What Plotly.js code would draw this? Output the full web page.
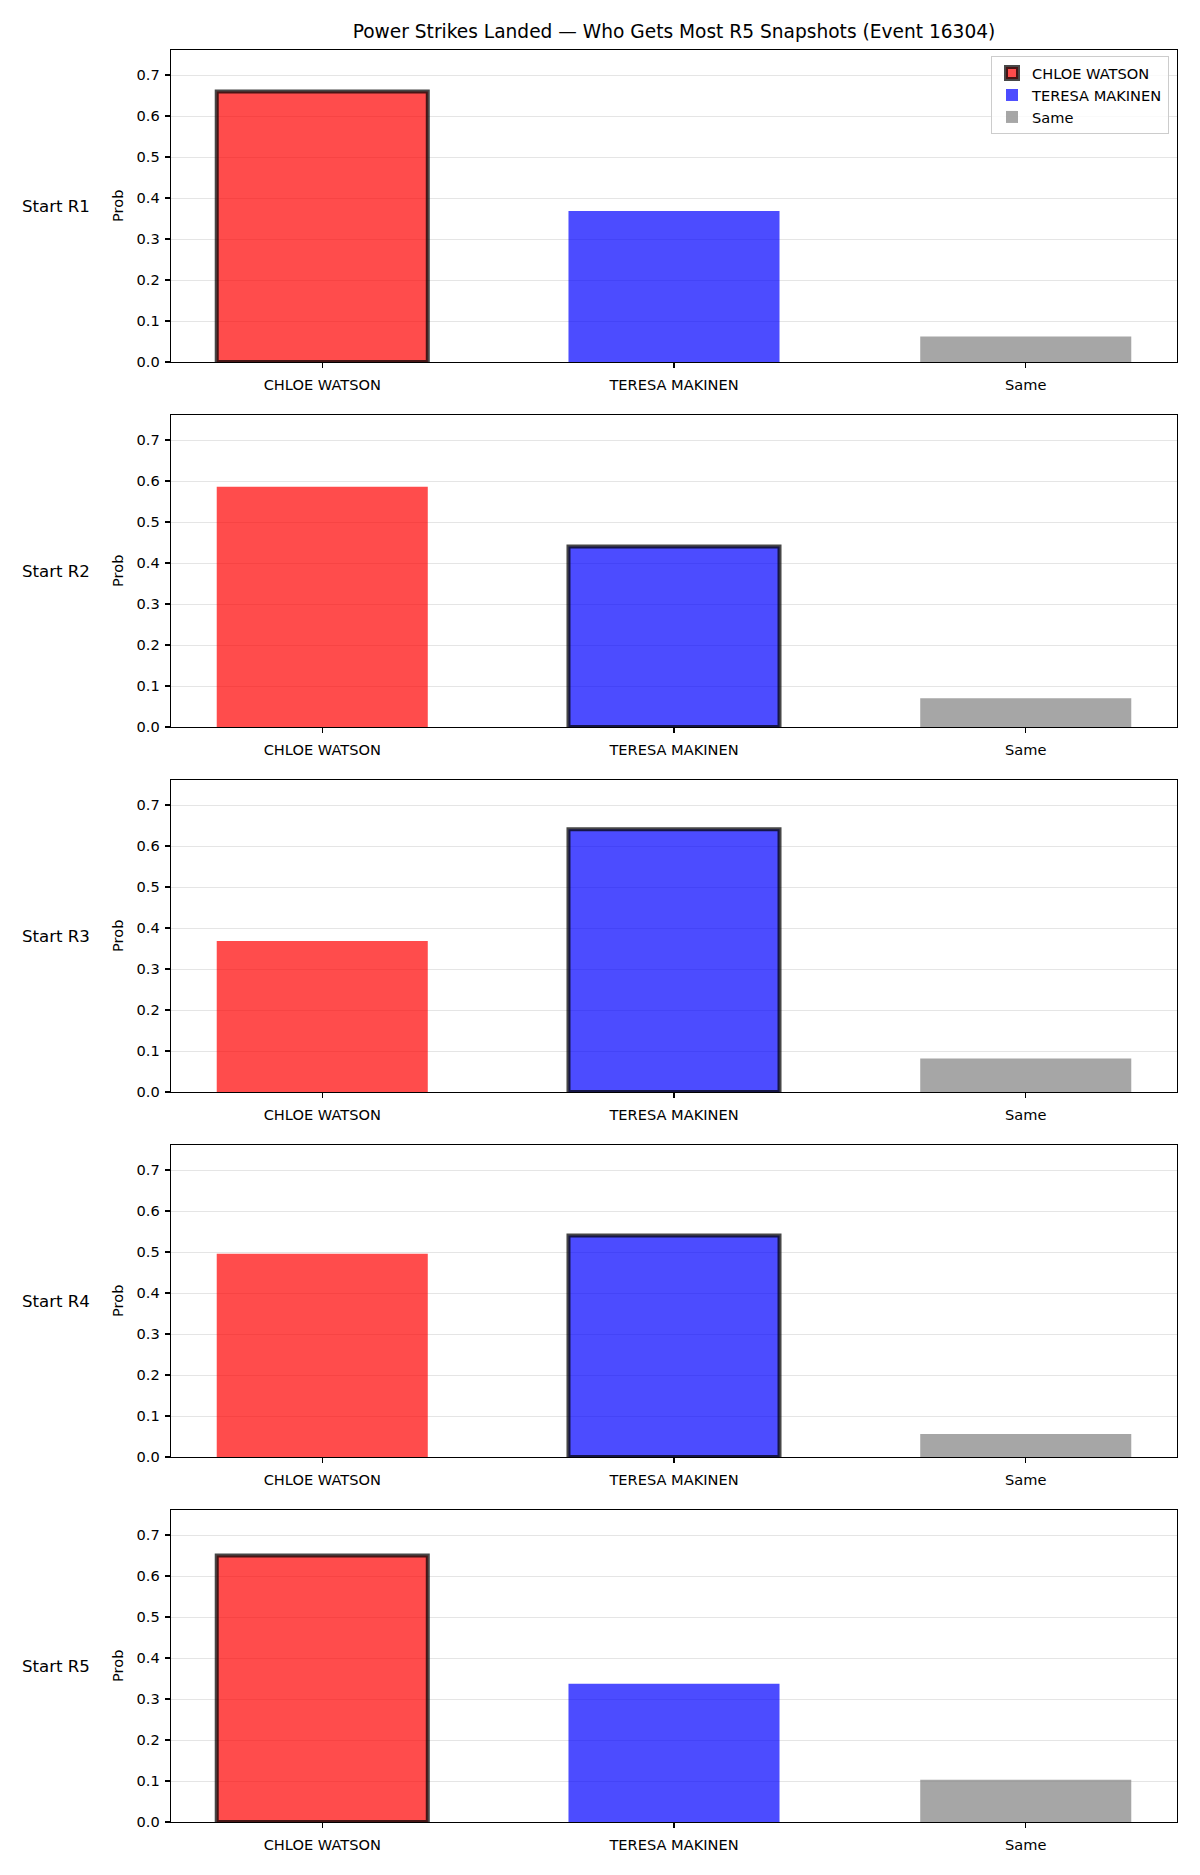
<!DOCTYPE html>
<html>
<head>
<meta charset="utf-8">
<script src="https://cdn.plot.ly/plotly-3.0.1.min.js"></script>
<style>html,body{margin:0;padding:0;background:#fff;}#chart{width:1200px;height:1875px;}</style>
</head>
<body>
<div id="chart"></div>
<script>
// ---- data ----
const categories = ['CHLOE WATSON', 'TERESA MAKINEN', 'Same'];
const rowLabels = ['Start R1', 'Start R2', 'Start R3', 'Start R4', 'Start R5'];
const probR1 = [0.660, 0.368, 0.062];
const probR2 = [0.586, 0.440, 0.070];
const probR3 = [0.368, 0.641, 0.082];
const probR4 = [0.496, 0.540, 0.056];
const probR5 = [0.650, 0.337, 0.103];
const highlighted = ['CHLOE WATSON', 'TERESA MAKINEN', 'TERESA MAKINEN', 'TERESA MAKINEN', 'CHLOE WATSON'];
const yTicks = [0, 0.1, 0.2, 0.3, 0.4, 0.5, 0.6, 0.7];
const titleText = 'Power Strikes Landed \u2014 Who Gets Most R5 Snapshots (Event 16304)';

// ---- styling ----
const W = 1200, H = 1875;
const fills = ['rgba(255,0,0,0.7)', 'rgba(0,0,255,0.7)', 'rgba(128,128,128,0.7)'];
const FONT = 'DejaVu Sans, sans-serif';
const TICK = 14.6;
const axLeft = 171, axRight = 1177;
const panelTop0 = 50, panelH = 312, panelStep = 365;
const rows = [probR1, probR2, probR3, probR4, probR5];

const data = [];
const layout = {
  width: W, height: H,
  margin: {l: 0, r: 0, t: 0, b: 0},
  paper_bgcolor: '#fff', plot_bgcolor: '#fff',
  barmode: 'overlay',
  showlegend: true,
  font: {family: FONT, color: '#000', size: TICK},
  title: {text: titleText, font: {family: FONT, size: 18.6, color: '#000'},
          x: ((axLeft + axRight) / 2) / W, xanchor: 'center', y: 1 - 31 / H, yanchor: 'middle'},
  legend: {x: 1169 / W, xanchor: 'right', y: 1 - 56 / H, yanchor: 'top',
           bgcolor: 'rgba(255,255,255,0.8)', bordercolor: '#cccccc', borderwidth: 1,
           tracegroupgap: 2, traceorder: 'normal',
           font: {family: FONT, size: TICK, color: '#000'}},
  annotations: []
};

rows.forEach((vals, p) => {
  const top = panelTop0 + p * panelStep;
  const bot = top + panelH;
  const xa = 'xaxis' + (p === 0 ? '' : p + 1);
  const ya = 'yaxis' + (p === 0 ? '' : p + 1);
  const xr = 'x' + (p === 0 ? '' : p + 1);
  const yr = 'y' + (p === 0 ? '' : p + 1);
  categories.forEach((c, i) => {
    const hl = c === highlighted[p];
    data.push({
      type: 'bar', x: [c], y: [vals[i]], name: c, width: 0.6,
      xaxis: xr, yaxis: yr,
      marker: {color: fills[i], line: {color: hl ? 'rgba(0,0,0,0.72)' : 'rgba(0,0,0,0)', width: hl ? 4 : 0}},
      showlegend: p === 0, legendgroup: c, hoverinfo: 'skip'
    });
  });
  layout[xa] = {
    domain: [axLeft / W, axRight / W], anchor: yr,
    type: 'category', categoryorder: 'array', categoryarray: categories,
    range: [-0.43, 2.43], showgrid: false, zeroline: false,
    showline: true, mirror: true, linecolor: '#000', linewidth: 1.3,
    ticks: 'outside', ticklen: 5, tickwidth: 1.2, tickcolor: '#000', ticklabelstandoff: 4,
    tickfont: {family: FONT, size: TICK, color: '#000'}, fixedrange: true
  };
  layout[ya] = {
    domain: [1 - bot / H, 1 - top / H], anchor: xr,
    range: [0, 0.761], tickvals: yTicks, tickformat: '.1f',
    showgrid: true, gridcolor: 'rgba(190,190,190,0.4)', gridwidth: 1,
    zeroline: false, showline: true, mirror: true, linecolor: '#000', linewidth: 1.3,
    ticks: 'outside', ticklen: 5, tickwidth: 1.2, tickcolor: '#000', ticklabelstandoff: 2,
    tickfont: {family: FONT, size: TICK, color: '#000'}, layer: 'above traces', fixedrange: true
  };
  const midY = 1 - (top + panelH / 2) / H;
  layout.annotations.push({
    text: rowLabels[p], xref: 'paper', yref: 'paper', x: 20 / W, xanchor: 'left',
    y: midY, yanchor: 'middle', showarrow: false, font: {family: FONT, size: 16.6, color: '#000'}
  });
  layout.annotations.push({
    text: 'Prob', xref: 'paper', yref: 'paper', x: 117 / W, xanchor: 'center',
    y: midY, yanchor: 'middle', textangle: -90, showarrow: false, font: {family: FONT, size: TICK, color: '#000'}
  });
});

Plotly.newPlot('chart', data, layout, {displayModeBar: false, staticPlot: true});
</script>
</body>
</html>
